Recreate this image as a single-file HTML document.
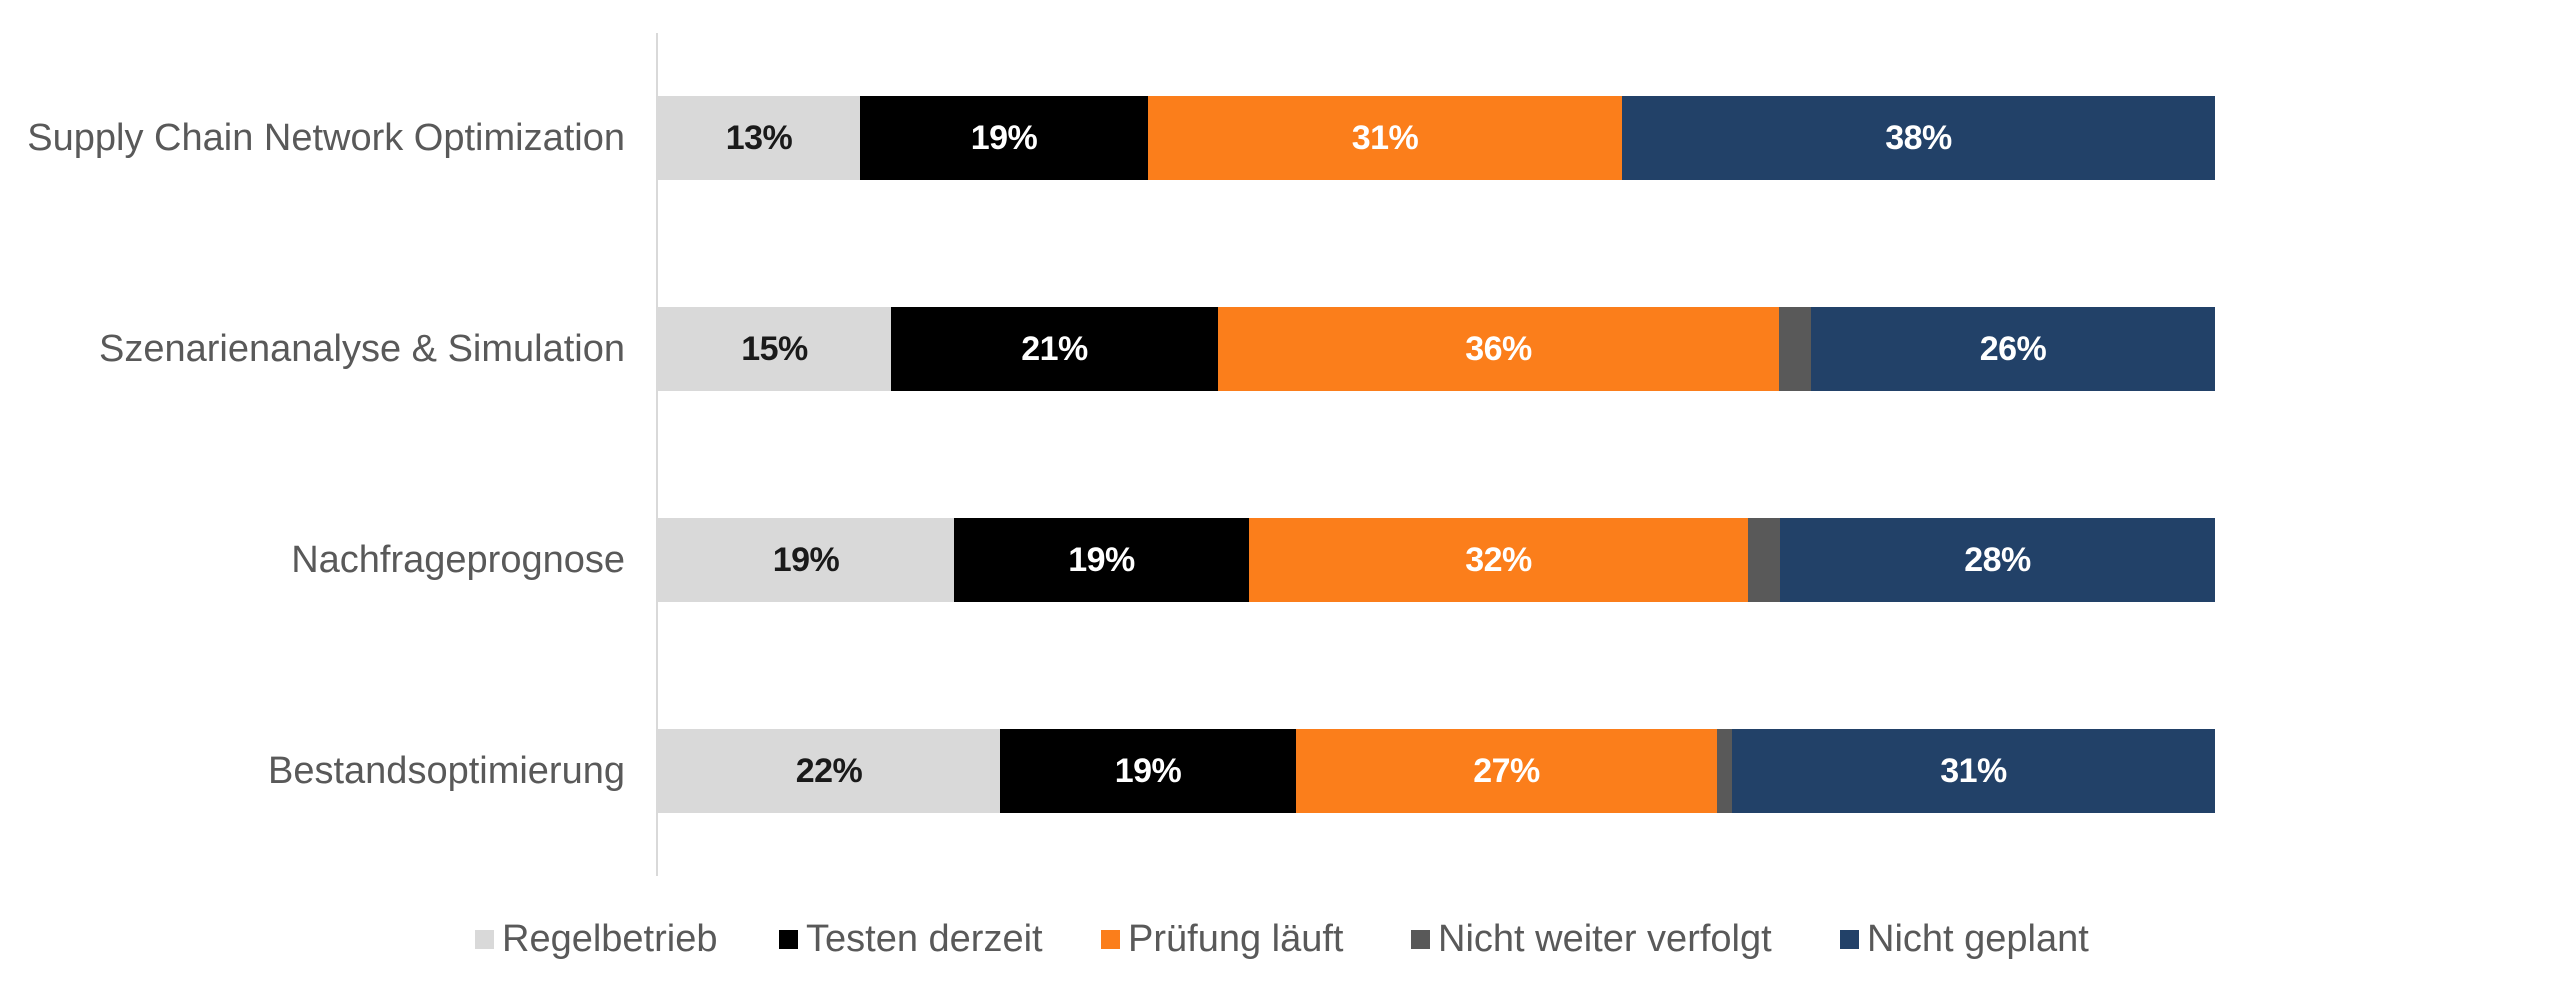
<!DOCTYPE html>
<html>
<head>
<meta charset="utf-8">
<style>
  html,body{margin:0;padding:0;background:#fff;}
  body{width:2560px;height:987px;position:relative;overflow:hidden;font-family:"Liberation Sans",sans-serif;}
  .axis{position:absolute;left:656px;top:33px;width:2px;height:843px;background:#d9d9d9;}
  .cat{position:absolute;right:1935px;height:60px;line-height:60px;font-size:38px;color:#595959;white-space:nowrap;text-align:right;}
  .seg{position:absolute;height:84px;display:flex;align-items:center;justify-content:center;font-weight:bold;font-size:34px;color:#fff;letter-spacing:-0.5px;}
  .lg{background:#d9d9d9;color:#1a1a1a;}
  .bk{background:#000;}
  .or{background:#fb7e1b;}
  .dg{background:#595959;}
  .nv{background:#224168;}
  .leg{position:absolute;top:912px;height:54px;line-height:54px;font-size:38px;color:#595959;white-space:nowrap;}
  .sq{position:absolute;width:19px;height:19px;top:930px;}
</style>
</head>
<body>
<div class="axis"></div>

<div class="cat" style="top:108px;">Supply Chain Network Optimization</div>
<div class="cat" style="top:319px;">Szenarienanalyse &amp; Simulation</div>
<div class="cat" style="top:530px;">Nachfrageprognose</div>
<div class="cat" style="top:741px;">Bestandsoptimierung</div>

<!-- Bar 1 -->
<div class="seg lg" style="top:96px;left:658px;width:202px;">13%</div>
<div class="seg bk" style="top:96px;left:860px;width:288px;">19%</div>
<div class="seg or" style="top:96px;left:1148px;width:474px;">31%</div>
<div class="seg nv" style="top:96px;left:1622px;width:593px;">38%</div>

<!-- Bar 2 -->
<div class="seg lg" style="top:307px;left:658px;width:233px;">15%</div>
<div class="seg bk" style="top:307px;left:891px;width:327px;">21%</div>
<div class="seg or" style="top:307px;left:1218px;width:561px;">36%</div>
<div class="seg dg" style="top:307px;left:1779px;width:32px;"></div>
<div class="seg nv" style="top:307px;left:1811px;width:404px;">26%</div>

<!-- Bar 3 -->
<div class="seg lg" style="top:518px;left:658px;width:296px;">19%</div>
<div class="seg bk" style="top:518px;left:954px;width:295px;">19%</div>
<div class="seg or" style="top:518px;left:1249px;width:499px;">32%</div>
<div class="seg dg" style="top:518px;left:1748px;width:32px;"></div>
<div class="seg nv" style="top:518px;left:1780px;width:435px;">28%</div>

<!-- Bar 4 -->
<div class="seg lg" style="top:729px;left:658px;width:342px;">22%</div>
<div class="seg bk" style="top:729px;left:1000px;width:296px;">19%</div>
<div class="seg or" style="top:729px;left:1296px;width:421px;">27%</div>
<div class="seg dg" style="top:729px;left:1717px;width:15px;"></div>
<div class="seg nv" style="top:729px;left:1732px;width:483px;">31%</div>

<!-- Legend -->
<div class="sq" style="left:475px;background:#d9d9d9;"></div>
<div class="leg" style="left:502px;">Regelbetrieb</div>
<div class="sq" style="left:779px;background:#000;"></div>
<div class="leg" style="left:806px;">Testen derzeit</div>
<div class="sq" style="left:1101px;background:#fb7e1b;"></div>
<div class="leg" style="left:1128px;">Prüfung läuft</div>
<div class="sq" style="left:1411px;background:#595959;"></div>
<div class="leg" style="left:1438px;">Nicht weiter verfolgt</div>
<div class="sq" style="left:1840px;background:#224168;"></div>
<div class="leg" style="left:1867px;">Nicht geplant</div>
</body>
</html>
